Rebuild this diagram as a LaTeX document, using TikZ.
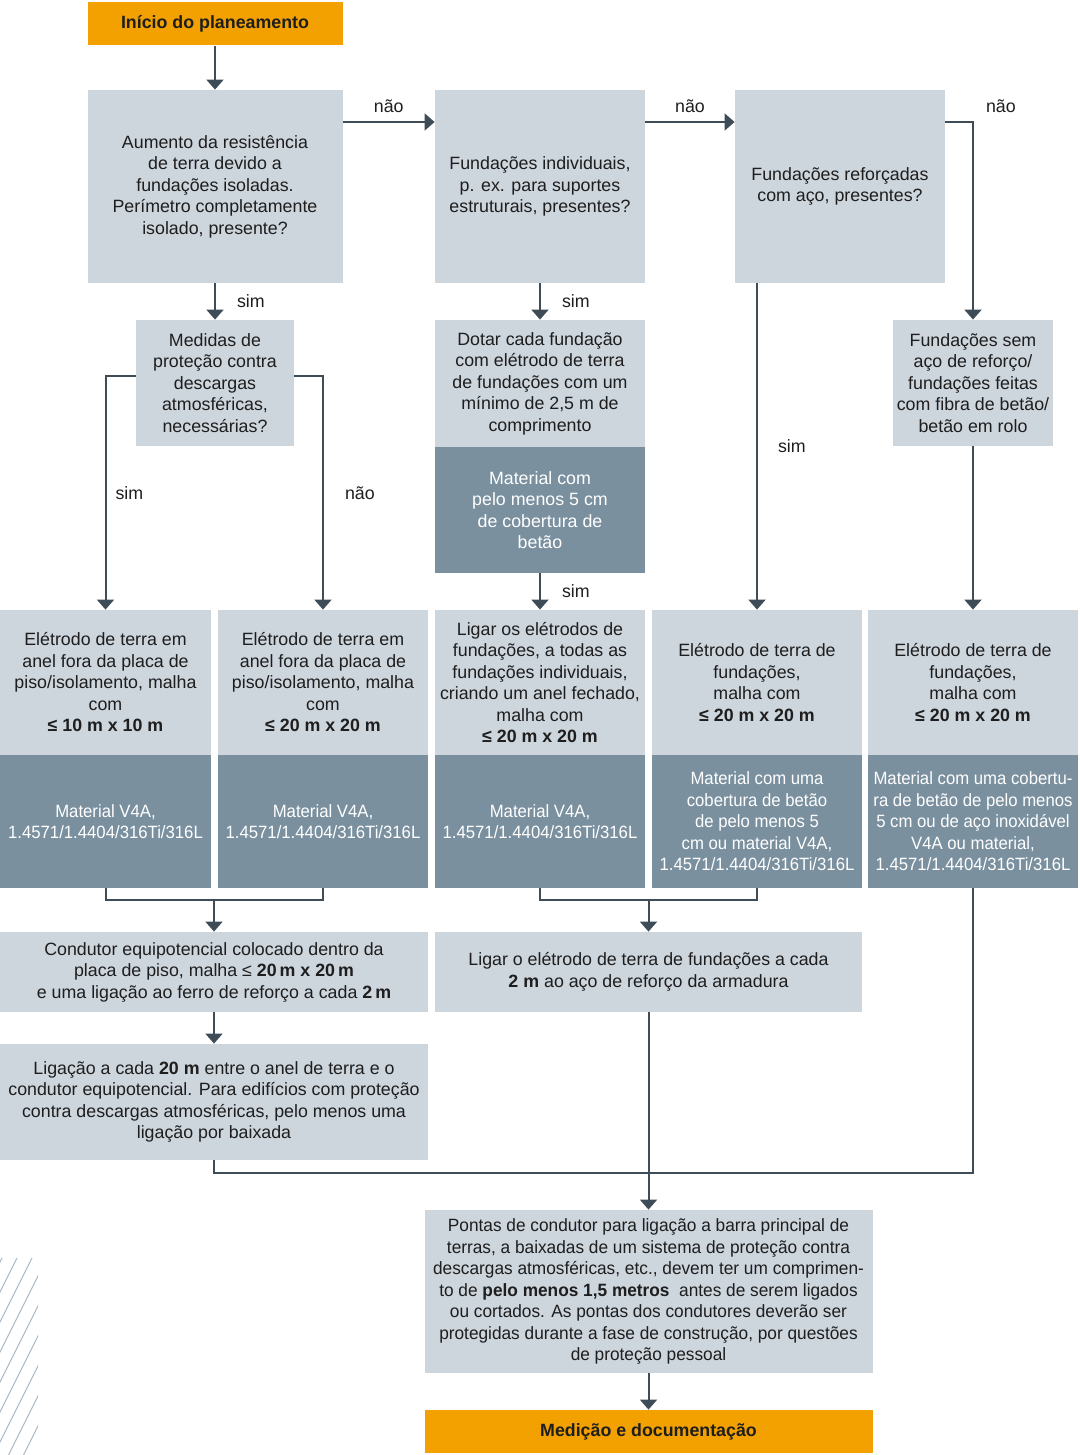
\documentclass[tikz,border=0pt]{standalone}
\usepackage{fontspec}
\setmainfont{Liberation Sans}
\newfontfamily\condfont[FakeStretch=0.94]{Liberation Sans}
\newfontfamily\semicondfont[FakeStretch=0.97]{Liberation Sans}
\usetikzlibrary{arrows.meta,positioning}
\definecolor{orangebox}{RGB}{242,161,0}
\definecolor{lightbox}{RGB}{205,213,221}
\definecolor{darkbox}{RGB}{122,144,159}
\definecolor{linec}{RGB}{61,76,86}
\definecolor{hatchc}{RGB}{170,183,197}
\definecolor{textc}{RGB}{30,30,30}
\begin{document}
\begin{tikzpicture}[x=0.5pt,y=-0.5pt,
	every node/.style={inner sep=0pt,align=center,text=textc,font=\fontsize{8.9}{10.75}\selectfont},
	box/.style 2 args={fill=lightbox,minimum width=#1*0.5pt,minimum height=#2*0.5pt},
	matbox/.style 2 args={fill=darkbox,text=white,minimum width=#1*0.5pt,minimum height=#2*0.5pt},
	condmat/.style={font=\fontsize{8.9}{10.75}\condfont},
	endbox/.style={fill=orangebox,minimum width=224pt,minimum height=21.5pt,font=\fontsize{8.9}{10.75}\selectfont\bfseries},
	lbl/.style={fill=none},
	line/.style={draw=linec,line width=1pt},
	arr/.style={line,-{Triangle[width=8.5pt,length=5pt]}}]
			\useasboundingbox (0,0) rectangle (1080,1455);

			%hatching
			\begin{scope}
				\clip (0,1258) rectangle (38,1455);
				\foreach \x in {-96.5,-81.5,...,38} \draw[hatchc,line width=0.5pt] (\x,1455) -- ++(110,-220);
			\end{scope}

			%top row
			\node [endbox,minimum width=127.5pt] (start) at (215,24) {Início do planeamento};
			\node [box={255}{193}] (B1) at (215,186.5) {Aumento da resistência\\de terra devido a\\fundações isoladas.\\Perímetro completamente\\isolado, presente?};
			\node [box={210}{193}] (B2) at (540,186.5) {Fundações individuais,\\p. ex. para suportes\\estruturais, presentes?};
			\node [box={210}{193}] (B3) at (840,186.5) {Fundações reforçadas\\com aço, presentes?};

			%second row
			\node [box={158}{126}] (M) at (215,383) {Medidas de\\proteção contra\\descargas\\atmosféricas,\\necessárias?};
			\node [box={210}{127}] (D) at (540,383.5) {Dotar cada fundação\\com elétrodo de terra\\de fundações com um\\mínimo de 2,5 m de\\comprimento};
			\node [matbox={210}{126}] (Dm) at (540,510) {Material com\\pelo menos 5 cm\\de cobertura de\\betão};
			\node [box={160}{126}] (F) at (973,383) {Fundações sem\\aço de reforço/\\fundações feitas\\com fibra de betão/\\betão em rolo};

			%electrode row
			\node [box={211}{145}] (E1) at (105.5,682.5) {Elétrodo de terra em\\anel fora da placa de\\piso/isolamento, malha\\com\\\textbf{≤ 10 m x 10 m}};
			\node [box={210}{145}] (E2) at (323,682.5) {Elétrodo de terra em\\anel fora da placa de\\piso/isolamento, malha\\com\\\textbf{≤ 20 m x 20 m}};
			\node [box={210}{145}] (E3) at (540,682.5) {Ligar os elétrodos de\\fundações, a todas as\\fundações individuais,\\criando um anel fechado,\\malha com\\\textbf{≤ 20 m x 20 m}};
			\node [box={210}{145}] (E4) at (757,682.5) {Elétrodo de terra de\\fundações,\\malha com\\\textbf{≤ 20 m x 20 m}};
			\node [box={210}{145}] (E5) at (973,682.5) {Elétrodo de terra de\\fundações,\\malha com\\\textbf{≤ 20 m x 20 m}};

			%material row
			\node [matbox={211}{133},condmat] (E1m) at (105.5,821.5) {Material V4A,\\1.4571/1.4404/316Ti/316L};
			\node [matbox={210}{133},condmat] (E2m) at (323,821.5) {Material V4A,\\1.4571/1.4404/316Ti/316L};
			\node [matbox={210}{133},condmat] (E3m) at (540,821.5) {Material V4A,\\1.4571/1.4404/316Ti/316L};
			\node [matbox={210}{133},condmat] (E4m) at (757,821.5) {Material com uma\\cobertura de betão\\de pelo menos 5\\cm ou material V4A,\\1.4571/1.4404/316Ti/316L};
			\node [matbox={210}{133},condmat] (E5m) at (973,821.5) {Material com uma cobertu-\\ra de betão de pelo menos\\5 cm ou de aço inoxidável\\V4A ou material,\\1.4571/1.4404/316Ti/316L};

			%lower boxes
			\node [box={428}{80}] (C1) at (214,972) {Condutor equipotencial colocado dentro da\\placa de piso, malha ≤ \textbf{20\,m x 20\,m}\\e uma ligação ao ferro de reforço a cada \textbf{2\,m}};
			\node [box={427}{80}] (C2) at (648.5,972) {Ligar o elétrodo de terra de fundações a cada\\\textbf{2 m} ao aço de reforço da armadura};
			\node [box={428}{116}] (L) at (214,1102) {Ligação a cada \textbf{20 m} entre o anel de terra e o\\condutor equipotencial. Para edifícios com proteção\\contra descargas atmosféricas, pelo menos uma\\ligação por baixada};
			\node [box={448}{163},font=\fontsize{8.9}{10.75}\semicondfont] (P) at (648.5,1291.5) {Pontas de condutor para ligação a barra principal de\\terras, a baixadas de um sistema de proteção contra\\descargas atmosféricas, etc., devem ter um comprimen-\\to de \textbf{pelo menos 1,5 metros}~ antes de serem ligados\\ou cortados. As pontas dos condutores deverão ser\\protegidas durante a fase de construção, por questões\\de proteção pessoal};
			\node [endbox] (finish) at (648.5,1431.5) {Medição e documentação};

			%junctions
			\coordinate (j1) at (214,900);
			\coordinate (j2) at (648.5,900);

			%edges
			\draw[arr] (start) -- (B1);
			\draw[arr] ([yshift=32.25pt]B1.east) -- node[lbl,above=4pt] (n1) {não} ([yshift=32.25pt]B2.west);
			\draw[arr] ([yshift=32.25pt]B2.east) -- node[lbl,above=4pt] (n2) {não} ([yshift=32.25pt]B3.west);
			\draw[arr] ([yshift=32.25pt]B3.east) -| node[lbl,pos=0.5,above right=4pt and 6pt] (n3) {não} (F.north);
			\draw[arr] (B1) -- node[lbl,right=10.5pt] (s1) {sim} (M);
			\draw[arr] (B2) -- node[lbl,right=10.5pt] (s2) {sim} (D);
			\draw[arr] (Dm) -- node[lbl,right=10.5pt] (s3) {sim} (E3);
			\draw[arr] (B3.south -| E4.north) -- node[lbl,right=10pt] (s4) {sim} (E4.north);
			\draw[arr] ([yshift=3.5pt]M.west) -| node[lbl,pos=0.75,right=4.5pt] (s5) {sim} (E1.north);
			\draw[arr] ([yshift=3.5pt]M.east) -| node[lbl,pos=0.75,right=10.5pt] (n4) {não} (E2.north);
			\draw[arr] (F) -- (E5);
			\draw[line] (E1m.south) -- ++(0,12) -| (E2m.south);
			\draw[line] (E3m.south) -- ++(0,12) -| (E4m.south);
			\draw[arr] (j1) -- (C1);
			\draw[arr] (j2) -- (C2);
			\draw[arr] (C1) -- (L);
			\draw[line] (L.south) -- ++(0,13) -| (E5m.south);
			\draw[arr] (C2) -- (P);
			\draw[arr] (P) -- (finish);
		\end{tikzpicture}
\end{document}
